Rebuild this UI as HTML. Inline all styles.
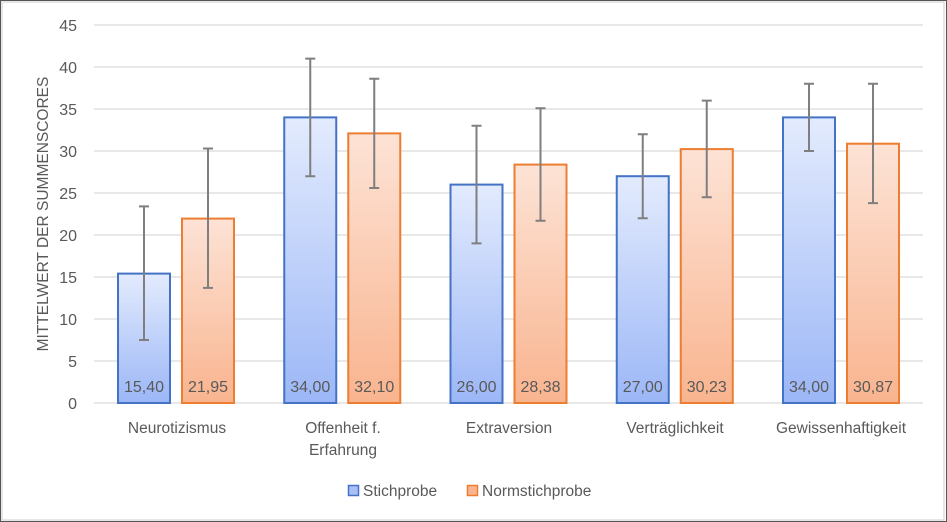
<!DOCTYPE html>
<html><head><meta charset="utf-8"><style>
body{margin:0;background:#fff}
svg{display:block;font-family:"Liberation Sans",sans-serif}
</style></head><body>
<svg width="947" height="522" viewBox="0 0 947 522" xmlns="http://www.w3.org/2000/svg">
<defs>
<linearGradient id="gb" x1="0" y1="0" x2="0" y2="1"><stop offset="0" stop-color="#e3ebfd"/><stop offset="1" stop-color="#9cb7f7"/></linearGradient>
<linearGradient id="go" x1="0" y1="0" x2="0" y2="1"><stop offset="0" stop-color="#fde3d6"/><stop offset="1" stop-color="#f9b48f"/></linearGradient>
</defs>
<rect x="0.5" y="0.5" width="946" height="521" fill="#fff" stroke="#555" stroke-width="1"/>
<rect x="2" y="2" width="942" height="518" fill="none" stroke="#ddd" stroke-width="1.5"/>
<g stroke="#d9d9d9" stroke-width="1.3">
<line x1="94" x2="923" y1="25" y2="25"/><line x1="94" x2="923" y1="67" y2="67"/><line x1="94" x2="923" y1="109" y2="109"/><line x1="94" x2="923" y1="151" y2="151"/><line x1="94" x2="923" y1="193" y2="193"/><line x1="94" x2="923" y1="235" y2="235"/><line x1="94" x2="923" y1="277" y2="277"/><line x1="94" x2="923" y1="319" y2="319"/><line x1="94" x2="923" y1="361" y2="361"/><line x1="94" x2="923" y1="403" y2="403"/>
</g>
<g font-size="16" fill="#595959" text-anchor="end">
<text x="77" y="31">45</text><text x="77" y="73">40</text><text x="77" y="115">35</text><text x="77" y="157">30</text><text x="77" y="199">25</text><text x="77" y="241">20</text><text x="77" y="283">15</text><text x="77" y="325">10</text><text x="77" y="367">5</text><text x="77" y="409">0</text>
</g>
<text transform="translate(48,214) rotate(-90)" font-size="15.5" fill="#595959" text-anchor="middle">MITTELWERT DER SUMMENSCORES</text>
<g stroke-width="2">
<rect x="118" y="273.6" width="52" height="129.4" fill="url(#gb)" stroke="#4472c4"/>
<rect x="182" y="218.6" width="52" height="184.4" fill="url(#go)" stroke="#ed7d31"/>
<rect x="284.25" y="117.4" width="52" height="285.6" fill="url(#gb)" stroke="#4472c4"/>
<rect x="348.25" y="133.4" width="52" height="269.6" fill="url(#go)" stroke="#ed7d31"/>
<rect x="450.5" y="184.6" width="52" height="218.4" fill="url(#gb)" stroke="#4472c4"/>
<rect x="514.5" y="164.6" width="52" height="238.4" fill="url(#go)" stroke="#ed7d31"/>
<rect x="616.75" y="176.2" width="52" height="226.8" fill="url(#gb)" stroke="#4472c4"/>
<rect x="680.75" y="149.1" width="52" height="253.9" fill="url(#go)" stroke="#ed7d31"/>
<rect x="783" y="117.4" width="52" height="285.6" fill="url(#gb)" stroke="#4472c4"/>
<rect x="847" y="143.7" width="52" height="259.3" fill="url(#go)" stroke="#ed7d31"/>
</g>
<g stroke="#7f7f7f" stroke-width="2" fill="none">
<path d="M144 340V206.4M139 340h10M139 206.4h10"/>
<path d="M208 287.9V148.5M203 287.9h10M203 148.5h10"/>
<path d="M310.25 176.2V58.6M305.25 176.2h10M305.25 58.6h10"/>
<path d="M374.25 188V78.8M369.25 188h10M369.25 78.8h10"/>
<path d="M476.5 243.4V125.8M471.5 243.4h10M471.5 125.8h10"/>
<path d="M540.5 220.7V108.2M535.5 220.7h10M535.5 108.2h10"/>
<path d="M642.75 218.2V134.2M637.75 218.2h10M637.75 134.2h10"/>
<path d="M706.75 197.2V100.6M701.75 197.2h10M701.75 100.6h10"/>
<path d="M809 151V83.8M804 151h10M804 83.8h10"/>
<path d="M873 203.1V83.8M868 203.1h10M868 83.8h10"/>
</g>
<g font-size="16" fill="#595959" text-anchor="middle">
<text x="144" y="392">15,40</text><text x="208" y="392">21,95</text>
<text x="310.25" y="392">34,00</text><text x="374.25" y="392">32,10</text>
<text x="476.5" y="392">26,00</text><text x="540.5" y="392">28,38</text>
<text x="642.75" y="392">27,00</text><text x="706.75" y="392">30,23</text>
<text x="809" y="392">34,00</text><text x="873" y="392">30,87</text>
</g>
<g font-size="15.5" fill="#595959" text-anchor="middle">
<text x="177" y="433">Neurotizismus</text>
<text x="343" y="433">Offenheit f.</text><text x="343" y="455">Erfahrung</text>
<text x="509" y="433">Extraversion</text>
<text x="675" y="433">Verträglichkeit</text>
<text x="841" y="433">Gewissenhaftigkeit</text>
</g>
<rect x="348.5" y="485.5" width="10" height="10" fill="#a9c0f7" stroke="#4472c4" stroke-width="1.5"/>
<text x="363" y="496" font-size="15.5" fill="#595959">Stichprobe</text>
<rect x="467.5" y="485.5" width="10" height="10" fill="#f9b48f" stroke="#ed7d31" stroke-width="1.5"/>
<text x="482" y="496" font-size="15.5" fill="#595959">Normstichprobe</text>
</svg>
</body></html>
